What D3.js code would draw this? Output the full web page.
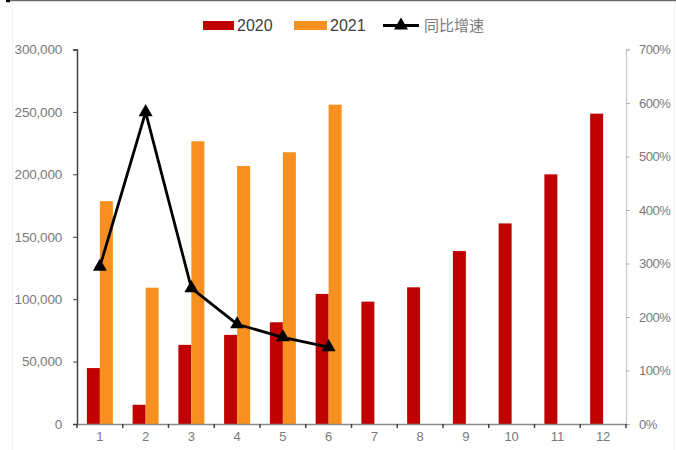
<!DOCTYPE html>
<html>
<head>
<meta charset="utf-8">
<script src="https://cdn.jsdelivr.net/npm/d3@7"></script>
<style>
  html, body { margin: 0; padding: 0; background: #fff; }
  svg { display: block; }
</style>
</head>
<body>
<svg id="chart" width="676" height="450"></svg>
<script>
// Monthly volumes for 2020 and 2021, and the year-on-year growth rate
const months = ["1","2","3","4","5","6","7","8","9","10","11","12"];
const values2020 = [44800, 15400, 63400, 71400, 81500, 104200, 98000, 109500, 138500, 160700, 200000, 248600];
const values2021 = [178500, 109200, 226500, 206700, 217700, 255800];
const growthPct = [294, 583, 254, 186.5, 162, 143.6];
const leftTicks = [0, 50000, 100000, 150000, 200000, 250000, 300000];
const rightTicks = [0, 100, 200, 300, 400, 500, 600, 700];
const seriesNames = ["2020", "2021", "同比增速"];

const colors = { y2020: "#C00000", y2021: "#F7901E", line: "#000000" };

const svg = d3.select("#chart");
const margin = { left: 77, right: 50, top: 49.5, bottom: 26 };
const W = 676, H = 450;
const x0 = margin.left, x1 = W - margin.right;      // 77 .. 626
const yTop = margin.top, yBottom = H - margin.bottom; // 49.5 .. 424

// frame: dark line along the top edge, faint side rules
svg.append("line").attr("x1", 10).attr("x2", 676).attr("y1", 0.5).attr("y2", 0.5)
  .attr("stroke", "#6b6b6b").attr("stroke-width", 1.5);
svg.append("line").attr("x1", 6).attr("x2", 10).attr("y1", 1).attr("y2", 1)
  .attr("stroke", "#000").attr("stroke-width", 2.5);
svg.append("line").attr("x1", 12.5).attr("x2", 12.5).attr("y1", 2).attr("y2", 450)
  .attr("stroke", "#f2f2f2").attr("stroke-width", 1);
svg.append("line").attr("x1", 674.5).attr("x2", 674.5).attr("y1", 2).attr("y2", 450)
  .attr("stroke", "#f2f2f2").attr("stroke-width", 1);

const x = d3.scaleBand().domain(months).range([x0, x1]).paddingInner(0).paddingOuter(0);
const barW = 13;
const yL = d3.scaleLinear().domain([0, 300000]).range([yBottom, yTop]);
const yR = d3.scaleLinear().domain([0, 700]).range([yBottom, yTop]);

const fmt = d3.format(",");

// bars
const g = svg.append("g");
g.selectAll("rect.b2020").data(values2020).join("rect")
  .attr("class", "b2020")
  .attr("x", (d, i) => x(months[i]) + x.bandwidth() / 2 - barW)
  .attr("width", barW)
  .attr("y", d => yL(d))
  .attr("height", d => yL(0) - yL(d))
  .attr("fill", colors.y2020);
g.selectAll("rect.b2021").data(values2021).join("rect")
  .attr("class", "b2021")
  .attr("x", (d, i) => x(months[i]) + x.bandwidth() / 2)
  .attr("width", barW)
  .attr("y", d => yL(d))
  .attr("height", d => yL(0) - yL(d))
  .attr("fill", colors.y2021);

// left axis
const axL = svg.append("g").attr("transform", `translate(${x0},0)`)
  .call(d3.axisLeft(yL).tickValues(leftTicks).tickFormat(fmt).tickSize(4).tickPadding(11));
axL.select(".domain").attr("stroke", "#404040").attr("stroke-width", 1.5);
axL.selectAll(".tick line").attr("stroke", "#404040");
axL.selectAll("text").attr("fill", "#7a7a7a").attr("font-family", "Liberation Sans, Arial, sans-serif")
  .attr("font-size", 13.5).attr("letter-spacing", "-0.2");

// right axis
const axR = svg.append("g").attr("transform", `translate(${x1},0)`)
  .call(d3.axisRight(yR).tickValues(rightTicks).tickFormat(d => d + "%").tickSize(4).tickPadding(9));
axR.select(".domain").attr("stroke", "#c8c8c8").attr("stroke-width", 1.2);
axR.selectAll(".tick line").attr("stroke", "#b0b0b0");
axR.selectAll("text").attr("fill", "#7a7a7a").attr("font-family", "Liberation Sans, Arial, sans-serif")
  .attr("font-size", 13).attr("letter-spacing", "-0.5");

// bottom axis: labels at band centres, tick marks at band boundaries
const axB = svg.append("g").attr("transform", `translate(0,${yBottom})`)
  .call(d3.axisBottom(x).tickSize(0).tickPadding(8));
axB.select(".domain").attr("stroke", "#8a8a8a").attr("stroke-width", 1.5);
axB.selectAll("text").attr("fill", "#7a7a7a").attr("font-family", "Liberation Sans, Arial, sans-serif")
  .attr("font-size", 13);
const boundaries = months.map(m => x(m)).concat([x1]);
axB.selectAll("line.bt").data(boundaries).join("line").attr("class", "bt")
  .attr("x1", d => d).attr("x2", d => d).attr("y1", 0).attr("y2", 4)
  .attr("stroke", "#404040").attr("stroke-width", 1.5);

// growth line with triangle markers
const cx = i => x(months[i]) + x.bandwidth() / 2;
const line = d3.line().x((d, i) => cx(i)).y(d => yR(d));
svg.append("path").datum(growthPct).attr("d", line)
  .attr("fill", "none").attr("stroke", colors.line).attr("stroke-width", 2.8)
  .attr("stroke-linejoin", "round");
const tri = d3.symbol().type(d3.symbolTriangle).size(85);
svg.selectAll("path.mk").data(growthPct).join("path").attr("class", "mk")
  .attr("d", tri)
  .attr("transform", (d, i) => `translate(${cx(i)},${yR(d)})`)
  .attr("fill", "#000");

// legend
const lg = svg.append("g");
const ly = 25.5;
lg.append("rect").attr("x", 203).attr("y", ly - 4.5).attr("width", 31).attr("height", 9).attr("fill", colors.y2020);
lg.append("text").attr("x", 237).attr("y", ly).attr("dy", "0.36em").text(seriesNames[0])
  .attr("font-family", "Liberation Sans, Arial, sans-serif").attr("font-size", 16).attr("fill", "#404040");
lg.append("rect").attr("x", 294).attr("y", ly - 4.5).attr("width", 33).attr("height", 9).attr("fill", colors.y2021);
lg.append("text").attr("x", 330).attr("y", ly).attr("dy", "0.36em").text(seriesNames[1])
  .attr("font-family", "Liberation Sans, Arial, sans-serif").attr("font-size", 16).attr("fill", "#404040");
lg.append("line").attr("x1", 383).attr("x2", 419).attr("y1", ly).attr("y2", ly)
  .attr("stroke", "#000").attr("stroke-width", 2.8);
lg.append("path").attr("d", tri).attr("transform", `translate(401,${ly})`).attr("fill", "#000");
lg.append("text").attr("x", 424).attr("y", ly).attr("dy", "0.36em").text(seriesNames[2])
  .attr("font-family", "Noto Sans CJK SC, sans-serif").attr("font-size", 15).attr("fill", "#7a7a7a");
</script>
</body>
</html>
